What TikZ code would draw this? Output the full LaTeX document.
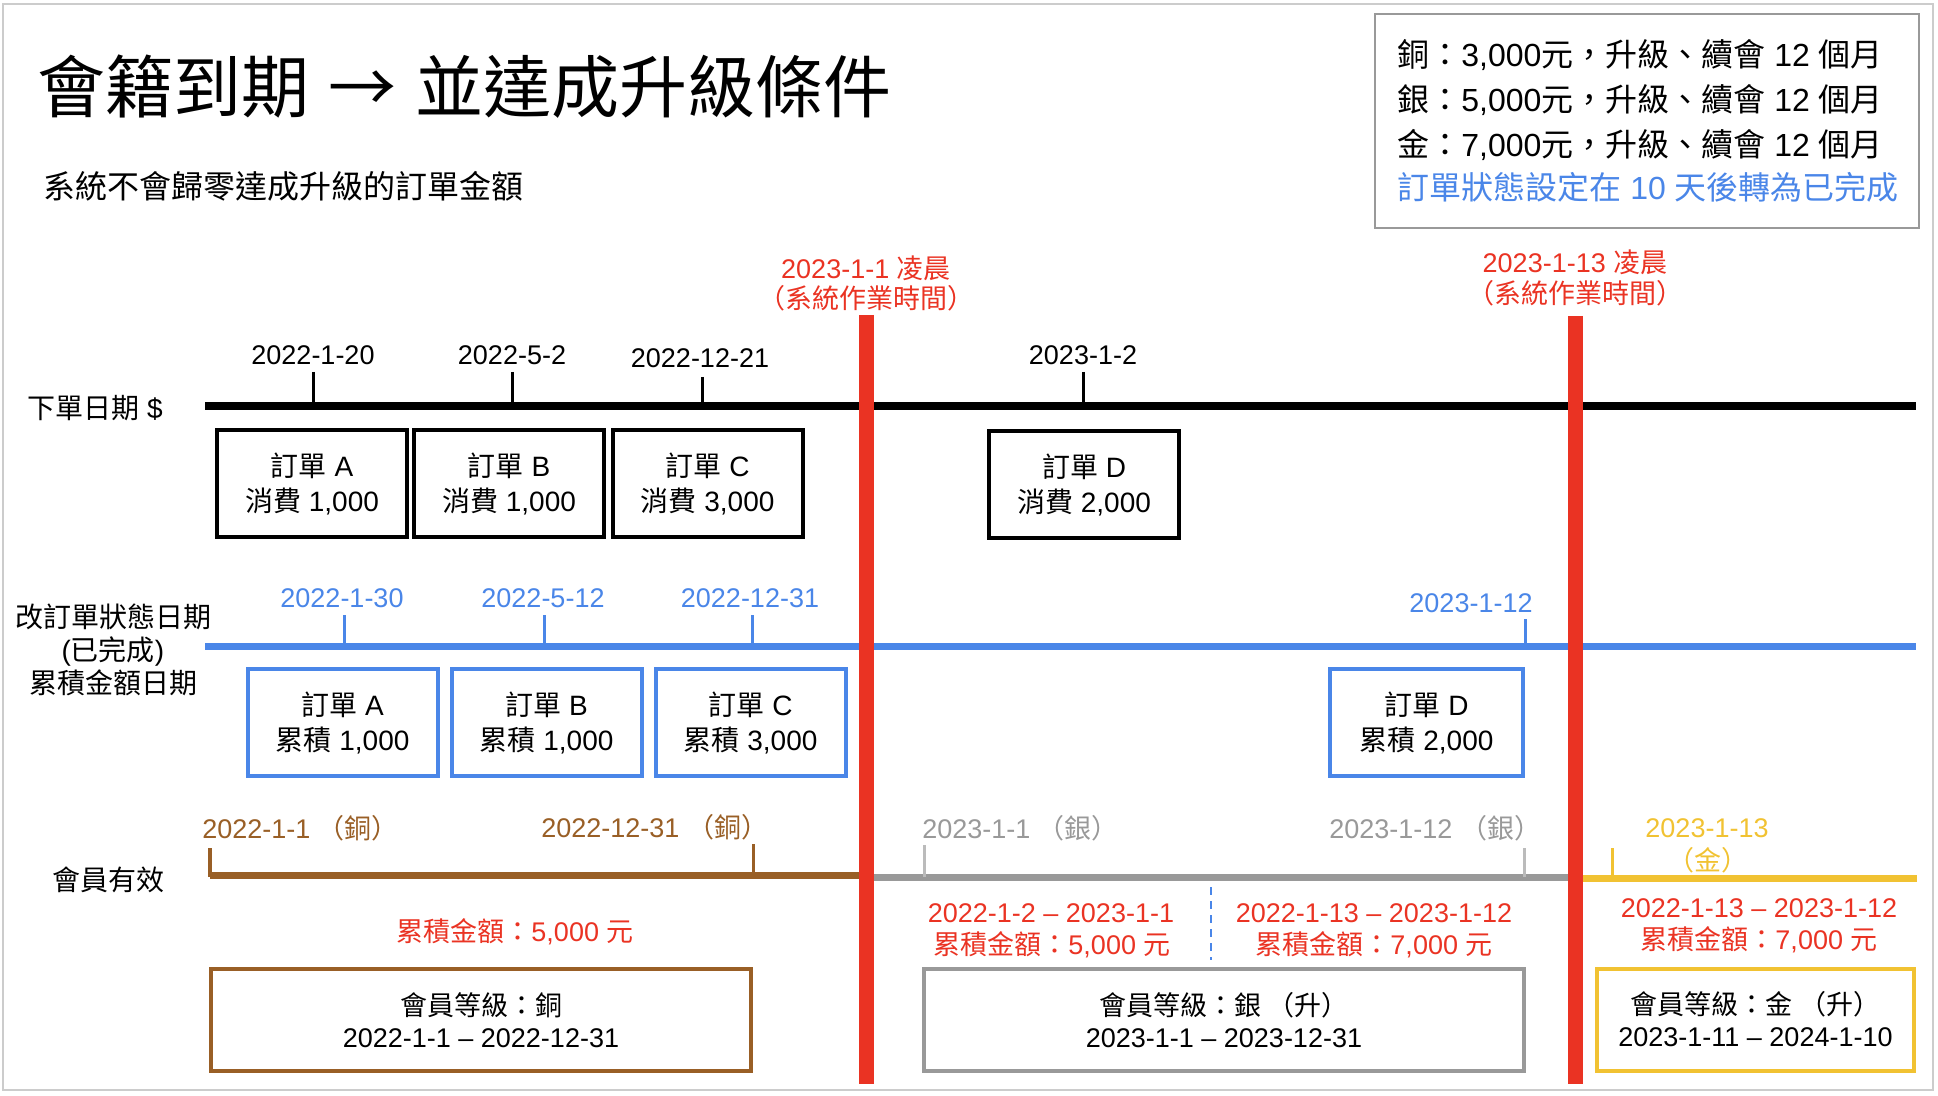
\documentclass[tikz,border=0pt]{standalone}
\usepackage{fontspec}
\setmainfont{Liberation Sans}
\newfontfamily\zhf{Noto Sans CJK TC}
\newcommand\zh[1]{{\zhf #1}}
\definecolor{myred}{HTML}{EA3323}
\definecolor{myblue}{HTML}{4A86E8}
\definecolor{mybrown}{HTML}{995F26}
\definecolor{mygrey}{HTML}{999999}
\definecolor{mylgrey}{HTML}{BBBBBB}
\definecolor{mygold}{HTML}{F1C232}
\definecolor{myframe}{HTML}{CCCCCC}
\begin{document}
\begin{tikzpicture}[x=0.5pt,y=-0.5pt,
  lbl/.style={inner sep=0pt, font=\fontsize{13.5}{16}\selectfont},
  sidelbl/.style={inner sep=0pt, align=center, font=\fontsize{14}{16.5}\selectfont},
  ordbox/.style={draw, line width=2pt, minimum width=95pt, minimum height=53.5pt, align=center, inner sep=0pt, font=\fontsize{14}{17.5}\selectfont},
  memberbox/.style={draw, line width=2pt, minimum height=51pt, align=center, inner sep=0pt, font=\fontsize{13.5}{16}\selectfont},
  tline/.style={line width=3.5pt},
  tick/.style={line width=1.5pt},
  redbar/.style={myred, line width=7.5pt},
  legtext/.style={inner sep=0pt, anchor=west, font=\fontsize{16}{19}\selectfont}
]
\useasboundingbox (0,0) rectangle (1938,1096);
\draw[myframe, line width=1pt] (3,4) rectangle (1933,1090);

% Title
\node[inner sep=0pt, anchor=west, font=\fontsize{34}{40}\selectfont] (title) at (37,87) {\zh{會籍到期} \zh{→} \zh{並達成升級條件}};
\node[inner sep=0pt, anchor=west, font=\fontsize{16}{19}\selectfont] (subtitle) at (43,186) {\zh{系統不會歸零達成升級的訂單金額}};

% Legend
\node[draw=mygrey, line width=1pt, minimum width=272pt, minimum height=107pt, inner sep=0pt] (legend) at (1647,121) {};
\node[legtext] (leg1) at (1397,55) {\zh{銅：}3,000\zh{元，升級、續會} 12 \zh{個月}};
\node[legtext] (leg2) at (1397,100) {\zh{銀：}5,000\zh{元，升級、續會} 12 \zh{個月}};
\node[legtext] (leg3) at (1397,145) {\zh{金：}7,000\zh{元，升級、續會} 12 \zh{個月}};
\node[legtext, text=myblue] (leg4) at (1397,187) {\zh{訂單狀態設定在} 10 \zh{天後轉為已完成}};

% Side labels
\node[sidelbl] (side1) at (95,408) {\zh{下單日期} \$};
\node[sidelbl] (side2) at (113,650) {\zh{改訂單狀態日期}\\(\zh{已完成})\\\zh{累積金額日期}};
\node[sidelbl] (side3) at (108,880) {\zh{會員有效}};

% Black timeline
\coordinate (bl0) at (205,406);
\coordinate (bl1) at (1916,406);
\draw[tline, line width=4pt] (bl0) -- (bl1);
\draw[tick] (313,372) -- (313,406);
\draw[tick] (512,372) -- (512,406);
\draw[tick] (702,377) -- (702,406);
\draw[tick] (1083,372) -- (1083,406);
\node[lbl] (d1) at (313,355) {2022-1-20};
\node[lbl] (d2) at (512,355) {2022-5-2};
\node[lbl] (d3) at (700,358) {2022-12-21};
\node[lbl] (d4) at (1083,355) {2023-1-2};

\node[ordbox] (oa) at (312,483.5) {\zh{訂單} A\\\zh{消費} 1,000};
\node[ordbox] (ob) at (509,483.5) {\zh{訂單} B\\\zh{消費} 1,000};
\node[ordbox] (oc) at (707.5,483.5) {\zh{訂單} C\\\zh{消費} 3,000};
\node[ordbox] (od) at (1084,484.5) {\zh{訂單} D\\\zh{消費} 2,000};

% Blue timeline
\coordinate (bb0) at (205,646);
\coordinate (bb1) at (1916,646);
\draw[tline, myblue] (bb0) -- (bb1);
\draw[tick, myblue] (344,615) -- (344,646);
\draw[tick, myblue] (544,615) -- (544,646);
\draw[tick, myblue] (752,615) -- (752,646);
\draw[tick, myblue] (1525,619) -- (1525,646);
\node[lbl, text=myblue] (e1) at (342,598) {2022-1-30};
\node[lbl, text=myblue] (e2) at (543,598) {2022-5-12};
\node[lbl, text=myblue] (e3) at (750,598) {2022-12-31};
\node[lbl, text=myblue] (e4) at (1471,603) {2023-1-12};

\node[ordbox, draw=myblue] (ba) at (342.5,722.5) {\zh{訂單} A\\\zh{累積} 1,000};
\node[ordbox, draw=myblue] (bbx) at (546.5,722.5) {\zh{訂單} B\\\zh{累積} 1,000};
\node[ordbox, draw=myblue] (bc) at (750.5,722.5) {\zh{訂單} C\\\zh{累積} 3,000};
\node[ordbox, draw=myblue, minimum width=96.5pt] (bd) at (1426.5,722.5) {\zh{訂單} D\\\zh{累積} 2,000};

% Member timelines
\coordinate (m0) at (210,875);
\coordinate (m1) at (866,875);
\draw[tline, mybrown] (m0) -- (m1);
\draw[tick, line width=2pt, mybrown] (210,848) -- (210,877);
\draw[tick, mybrown] (753,844) -- (753,875);
\node[lbl, anchor=west, text=mybrown] (f1) at (202,828) {2022-1-1 \zh{（銅）}};
\node[lbl, anchor=west, text=mybrown] (f2) at (541,827) {2022-12-31 \zh{（銅）}};

\coordinate (g0) at (866,877);
\coordinate (g1) at (1575,877);
\draw[tline, mygrey] (g0) -- (g1);
\draw[tick, mylgrey] (924,845) -- (924,877);
\draw[tick, mylgrey] (1524,848) -- (1524,877);
\node[lbl, anchor=west, text=mygrey] (h1) at (922,828) {2023-1-1 \zh{（銀）}};
\node[lbl, anchor=west, text=mygrey] (h2) at (1329,828) {2023-1-12 \zh{（銀）}};

\coordinate (k0) at (1575,878);
\coordinate (k1) at (1917,878);
\draw[tline, mygold] (k0) -- (k1);
\draw[tick, mygold] (1612,848) -- (1612,878);
\node[lbl, text=mygold] (j1) at (1707,828) {2023-1-13};
\node[lbl, text=mygold] (j2) at (1708,860) {\zh{（金）}};

% Red totals
\node[lbl, text=myred] (t1) at (515,932) {\zh{累積金額：}5,000 \zh{元}};
\node[lbl, text=myred] (t2) at (1051,913) {2022-1-2 – 2023-1-1};
\node[lbl, text=myred] (t3) at (1052,945) {\zh{累積金額：}5,000 \zh{元}};
\node[lbl, text=myred] (t4) at (1374,913) {2022-1-13 – 2023-1-12};
\node[lbl, text=myred] (t5) at (1374,945) {\zh{累積金額：}7,000 \zh{元}};
\node[lbl, text=myred] (t6) at (1759,908) {2022-1-13 – 2023-1-12};
\node[lbl, text=myred] (t7) at (1759,940) {\zh{累積金額：}7,000 \zh{元}};

\coordinate (ds0) at (1211,887);
\coordinate (ds1) at (1211,960);
\draw[myblue, line width=0.8pt, dash pattern=on 4pt off 3pt] (ds0) -- (ds1);

% Member boxes
\node[memberbox, draw=mybrown, minimum width=270pt] (mb1) at (481,1020) {\zh{會員等級：銅}\\2022-1-1 – 2022-12-31};
\node[memberbox, draw=mygrey, minimum width=300pt] (mb2) at (1224,1020) {\zh{會員等級：銀 （升）}\\2023-1-1 – 2023-12-31};
\node[memberbox, draw=mygold, minimum width=158.5pt] (mb3) at (1755.5,1019.5) {\zh{會員等級：金 （升）}\\2023-1-11 – 2024-1-10};

% Red bars
\coordinate (r1a) at (866,315);
\coordinate (r1b) at (866,1084);
\coordinate (r2a) at (1575,316);
\coordinate (r2b) at (1575,1084);
\draw[redbar] (r1a) -- (r1b);
\draw[redbar] (r2a) -- (r2b);
\node[lbl, text=myred] (rl1) at (866,268) {2023-1-1 \zh{凌晨}};
\node[lbl, text=myred] (rl2) at (866,298) {\zh{（系統作業時間）}};
\node[lbl, text=myred] (rl3) at (1575,262) {2023-1-13 \zh{凌晨}};
\node[lbl, text=myred] (rl4) at (1575,293) {\zh{（系統作業時間）}};
\end{tikzpicture}
\end{document}
